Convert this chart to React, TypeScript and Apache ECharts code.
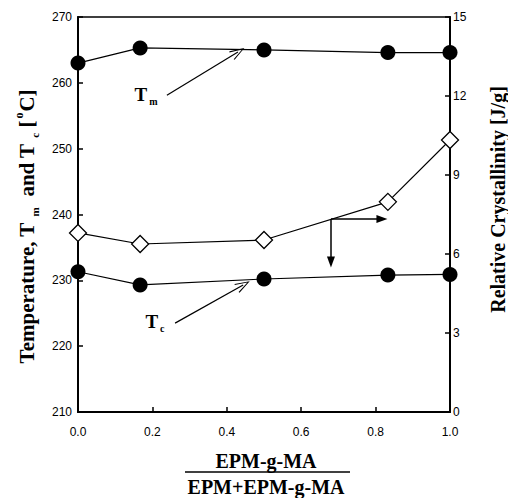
import React, { useEffect, useRef } from "react";
import * as echarts from "echarts";

const xValues = [0, 0.167, 0.5, 0.833, 1.0];
const tmValues = [263.0, 265.3, 265.0, 264.6, 264.6];
const tcValues = [231.3, 229.3, 230.2, 230.8, 230.9];
const crystValues = [6.8, 6.38, 6.53, 7.98, 10.33];

const xAxisMin = 0;
const xAxisMax = 1;
const xAxisStep = 0.2;
const tempMin = 210;
const tempMax = 270;
const tempStep = 10;
const crystMin = 0;
const crystMax = 15;
const crystStep = 3;

// annotation anchors (data space)
const tmArrow = [[0.239, 258.1], [0.43, 264.7]];
const tcArrow = [[0.261, 223.5], [0.444, 229.3]];
const tmLabelAt = [0.183, 258.3];
const tcLabelAt = [0.207, 223.8];
const rightIndicatorStart = [0.68, 7.33];
const rightIndicatorEndX = 0.817;
const rightIndicatorEndY = 5.7;

const SERIF = '"Liberation Serif", "Times New Roman", serif';
const SANS = '"Liberation Sans", Arial, sans-serif';
const chevron = "path://M5,0 L10,14 L9,14.5 L5,2.6 L1,14.5 L0,14 Z";

export default function App() {
  const ref = useRef<HTMLDivElement>(null);
  useEffect(() => {
    if (!ref.current) return;
    const chart = echarts.init(ref.current, null, { renderer: "svg" });
    const pair = (ys: number[]) => xValues.map((x, i) => [x, ys[i]]);
    const titleRich = {
      b: { fontFamily: SERIF, fontWeight: "bold", fontSize: 21, lineHeight: 27, color: "#000" },
      sub: { fontFamily: SERIF, fontWeight: "bold", fontSize: 11, lineHeight: 11, verticalAlign: "bottom", padding: [0, 0, 0, 6], color: "#000" },
      sup: { fontFamily: SERIF, fontWeight: "bold", fontSize: 12, lineHeight: 12, verticalAlign: "top", padding: [0, 1, 0, 2], color: "#000" },
    };
    const annRich = {
      t: { fontFamily: SERIF, fontWeight: "bold", fontSize: 19, lineHeight: 24, color: "#000" },
      s: { fontFamily: SERIF, fontWeight: "bold", fontSize: 10, lineHeight: 10, verticalAlign: "bottom", padding: [0, 0, 0, 2], color: "#000" },
    };
    const axisLabel = { color: "#000", fontFamily: SANS, fontSize: 12 };
    const axisLine = { show: true, lineStyle: { color: "#000", width: 2 } };
    const axisTick = { show: true, inside: true, length: 5, lineStyle: { color: "#000", width: 1.5 } };
    const arrowLine = { color: "#000", width: 1.2, type: "solid" as const };

    chart.setOption({
      animation: false,
      grid: { left: 78, right: 58, top: 17, bottom: 86, show: true, borderColor: "#000", borderWidth: 1.5, containLabel: false, outerBoundsMode: "none" },
      xAxis: {
        type: "value",
        min: xAxisMin,
        max: xAxisMax,
        interval: xAxisStep,
        axisLine,
        axisTick,
        splitLine: { show: false },
        axisLabel: { ...axisLabel, margin: 14, formatter: (v: number) => v.toFixed(1) },
      },
      yAxis: [
        {
          type: "value",
          min: tempMin,
          max: tempMax,
          interval: tempStep,
          position: "left",
          axisLine,
          axisTick,
          splitLine: { show: false },
          axisLabel: { ...axisLabel, margin: 6 },
          name: "{b|Temperature, T}{sub|m}{b|  and T}{sub|c}{b| [}{sup|o}{b|C]}",
          nameLocation: "middle",
          nameRotate: 90,
          nameGap: 38,
          nameTextStyle: { rich: titleRich, padding: [0, 24, 0, 0] },
        },
        {
          type: "value",
          min: crystMin,
          max: crystMax,
          interval: crystStep,
          position: "right",
          axisLine,
          axisTick,
          splitLine: { show: false },
          axisLabel: { ...axisLabel, margin: 3 },
          name: "Relative Crystallinity [J/g]",
          nameLocation: "middle",
          nameRotate: 90,
          nameGap: 38,
          nameTextStyle: { fontFamily: SERIF, fontWeight: "bold", fontSize: 20, color: "#000", padding: [0, 0, 0, 30] },
        },
      ],
      graphic: [
        { type: "text", x: 266, y: 461, style: { text: "EPM-g-MA", align: "center", verticalAlign: "middle", font: `bold 20px ${SERIF}`, fill: "#000" } },
        { type: "line", shape: { x1: 185, y1: 472, x2: 350, y2: 472 }, style: { stroke: "#000", lineWidth: 1.5 } },
        { type: "text", x: 266, y: 487, style: { text: "EPM+EPM-g-MA", align: "center", verticalAlign: "middle", font: `bold 20px ${SERIF}`, fill: "#000" } },
      ],
      series: [
        {
          name: "Tm",
          type: "line",
          yAxisIndex: 0,
          data: pair(tmValues),
          symbol: "circle",
          symbolSize: 15,
          itemStyle: { color: "#000" },
          lineStyle: { color: "#000", width: 1.2 },
          silent: true,
          markLine: {
            silent: true,
            symbol: ["none", chevron],
            symbolSize: [10, 15],
            label: { show: false },
            lineStyle: arrowLine,
            data: [[{ coord: tmArrow[0] }, { coord: tmArrow[1] }]],
          },
          markPoint: {
            silent: true,
            symbol: "circle",
            symbolSize: 1,
            itemStyle: { color: "rgba(0,0,0,0)" },
            label: { show: true, position: "inside", formatter: "{t|T}{s|m}", rich: annRich },
            data: [{ coord: tmLabelAt }],
          },
        },
        {
          name: "Tc",
          type: "line",
          yAxisIndex: 0,
          data: pair(tcValues),
          symbol: "circle",
          symbolSize: 15,
          itemStyle: { color: "#000" },
          lineStyle: { color: "#000", width: 1.2 },
          silent: true,
          markLine: {
            silent: true,
            symbol: ["none", chevron],
            symbolSize: [10, 15],
            label: { show: false },
            lineStyle: arrowLine,
            data: [[{ coord: tcArrow[0] }, { coord: tcArrow[1] }]],
          },
          markPoint: {
            silent: true,
            symbol: "circle",
            symbolSize: 1,
            itemStyle: { color: "rgba(0,0,0,0)" },
            label: { show: true, position: "inside", formatter: "{t|T}{s|c}", rich: annRich },
            data: [{ coord: tcLabelAt }],
          },
        },
        {
          name: "Crystallinity",
          type: "line",
          yAxisIndex: 1,
          data: pair(crystValues),
          symbol: "diamond",
          symbolSize: 17,
          itemStyle: { color: "#fff", borderColor: "#000", borderWidth: 1.3 },
          lineStyle: { color: "#000", width: 1.2 },
          silent: true,
          markLine: {
            silent: true,
            symbol: ["none", "triangle"],
            symbolSize: [8, 11],
            label: { show: false },
            lineStyle: { ...arrowLine, width: 1.5 },
            data: [
              [{ coord: rightIndicatorStart }, { coord: [rightIndicatorEndX, rightIndicatorStart[1]] }],
              [{ coord: rightIndicatorStart }, { coord: [rightIndicatorStart[0], rightIndicatorEndY] }],
            ],
          },
        },
      ],
    });
    return () => chart.dispose();
  }, []);
  return <div ref={ref} style={{ position: "absolute", left: 0, top: 0, width: 508, height: 498 }} />;
}
